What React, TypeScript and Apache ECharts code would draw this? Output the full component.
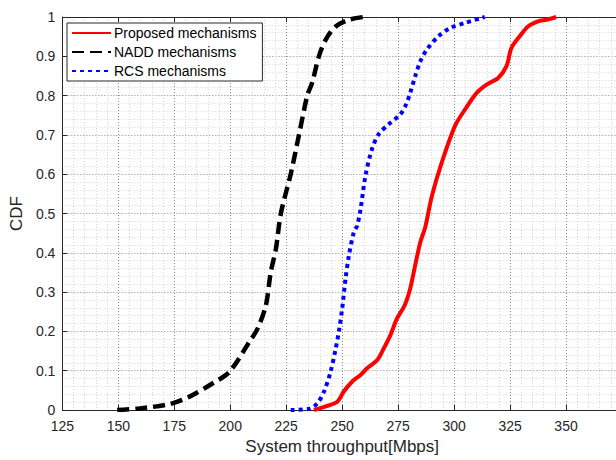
import React, { useEffect, useRef } from "react";
import * as echarts from "echarts";

const xTicks = [125, 150, 175, 200, 225, 250, 275, 300, 325, 350, 375];
const yTicks = [0, 0.1, 0.2, 0.3, 0.4, 0.5, 0.6, 0.7, 0.8, 0.9, 1];
const seriesNames = ["Proposed mechanisms", "NADD mechanisms", "RCS mechanisms"];

const proposedX = [237.4, 242.6, 247.8, 250.7, 254.4, 258.2, 261.1, 265.6, 268.5, 271.5, 274.5, 277.9, 280.4, 282.6, 284.9, 287.1, 290.1, 294.5, 300.4, 304.9, 310.1, 314.5, 319.7, 323.4, 325.6, 329.3, 333.0, 337.5, 341.2, 345.6];
const proposedY = [0, 0.009, 0.021, 0.047, 0.072, 0.089, 0.106, 0.127, 0.156, 0.19, 0.233, 0.266, 0.309, 0.368, 0.427, 0.465, 0.545, 0.63, 0.723, 0.765, 0.807, 0.828, 0.845, 0.875, 0.921, 0.951, 0.976, 0.989, 0.993, 1.0];

const naddX = [149.5, 159.6, 172.9, 181.8, 192.2, 199.6, 208.5, 212.2, 215.9, 218.1, 220.4, 222.6, 227.0, 230.7, 234.4, 236.6, 239.6, 242.6, 247.1, 253.0, 259.6];
const naddY = [0, 0.004, 0.015, 0.034, 0.068, 0.097, 0.173, 0.207, 0.266, 0.351, 0.41, 0.5, 0.6, 0.7, 0.8, 0.833, 0.9, 0.942, 0.976, 0.993, 1.0];

const rcsX = [227.0, 235.2, 238.9, 241.9, 244.8, 247.1, 248.5, 250.0, 251.5, 253.0, 255.2, 256.7, 258.2, 260.4, 263.3, 266.3, 270.8, 275.9, 278.2, 280.4, 282.6, 284.9, 287.8, 293.0, 298.2, 304.9, 313.7];
const rcsY = [0, 0.003, 0.017, 0.047, 0.097, 0.156, 0.199, 0.258, 0.334, 0.393, 0.452, 0.469, 0.511, 0.596, 0.664, 0.702, 0.727, 0.752, 0.773, 0.807, 0.849, 0.887, 0.917, 0.951, 0.972, 0.985, 1.0];

const zip = (xs: number[], ys: number[]) => xs.map((x, i) => [x, ys[i]]);

const FONT = "'Liberation Sans', Arial, Helvetica, sans-serif";
const AXIS_COLOR = "#262626";

export default function App() {
  const ref = useRef<HTMLDivElement>(null);
  useEffect(() => {
    if (!ref.current) return;
    const chart = echarts.init(ref.current, null, { renderer: "svg" });
    const gridLine = { show: true, lineStyle: { color: "#8a8a8a", type: [1, 2] as any, width: 1 } };
    const minorLine = { show: true, lineStyle: { color: "#d6d6d6", type: [1, 2] as any, width: 1 } };
    chart.setOption({
      animation: false,
      backgroundColor: "#ffffff",
      textStyle: { fontFamily: FONT },
      grid: { left: 62, right: 1, top: 17, bottom: 48, containLabel: false },
      legend: {
        orient: "vertical",
        left: 67,
        top: 23,
        data: seriesNames,
        itemWidth: 39,
        itemHeight: 14,
        itemGap: 5,
        padding: [3, 6, 3, 4],
        borderColor: AXIS_COLOR,
        borderWidth: 1,
        borderRadius: 0,
        backgroundColor: "#ffffff",
        itemStyle: { opacity: 0 },
        textStyle: { fontFamily: FONT, fontSize: 14, color: "#000", padding: [0, 0, 0, -2] },
      },
      xAxis: [
        {
          type: "value",
          min: xTicks[0],
          max: xTicks[xTicks.length - 1],
          interval: 25,
          name: "System throughput[Mbps]",
          nameLocation: "middle",
          nameGap: 28,
          nameTextStyle: { fontFamily: FONT, fontSize: 17, color: AXIS_COLOR },
          axisLine: { show: true, onZero: false, lineStyle: { color: AXIS_COLOR, width: 1 } },
          axisTick: { show: true, inside: true, length: 5, lineStyle: { color: AXIS_COLOR } },
          axisLabel: {
            fontFamily: FONT,
            fontSize: 14,
            color: AXIS_COLOR,
            margin: 9,
            formatter: (v: number) => (v === 375 ? "" : String(v)),
          },
          splitLine: gridLine,
          minorTick: { show: false, splitNumber: 5 },
          minorSplitLine: minorLine,
        },
        {
          type: "value",
          position: "top",
          min: xTicks[0],
          max: xTicks[xTicks.length - 1],
          interval: 25,
          axisLine: { show: true, onZero: false, lineStyle: { color: AXIS_COLOR, width: 1 } },
          axisTick: { show: true, inside: true, length: 5, lineStyle: { color: AXIS_COLOR } },
          axisLabel: { show: false },
          splitLine: { show: false },
        },
      ],
      yAxis: {
        type: "value",
        min: yTicks[0],
        max: yTicks[yTicks.length - 1],
        interval: 0.1,
        name: "CDF",
        nameLocation: "middle",
        nameGap: 31,
        nameTextStyle: { fontFamily: FONT, fontSize: 17, color: AXIS_COLOR },
        axisLine: { show: true, onZero: false, lineStyle: { color: AXIS_COLOR, width: 1 } },
        axisTick: { show: true, inside: true, length: 5, lineStyle: { color: AXIS_COLOR } },
        axisLabel: {
          fontFamily: FONT,
          fontSize: 14,
          color: AXIS_COLOR,
          margin: 7,
          formatter: (v: number) => String(Math.round(v * 10) / 10),
        },
        splitLine: gridLine,
        minorTick: { show: false, splitNumber: 5 },
        minorSplitLine: minorLine,
      },
      series: [
        {
          name: seriesNames[0],
          type: "line",
          data: zip(proposedX, proposedY),
          symbol: "none",
          smooth: 0.3,
          z: 5,
          lineStyle: { color: "#ff0000", width: 4, type: "solid" },
          itemStyle: { color: "#ff0000" },
        },
        {
          name: seriesNames[1],
          type: "line",
          data: zip(naddX, naddY),
          symbol: "none",
          smooth: 0.3,
          z: 4,
          lineStyle: { color: "#000000", width: 4.5, type: [12, 6] },
          itemStyle: { color: "#000000" },
        },
        {
          name: seriesNames[2],
          type: "line",
          data: zip(rcsX, rcsY),
          symbol: "none",
          smooth: 0.3,
          z: 3,
          lineStyle: { color: "#0000ff", width: 4, type: [4, 4] },
          itemStyle: { color: "#0000ff" },
        },
      ],
    });
    return () => chart.dispose();
  }, []);
  return (
    <div style={{ position: "fixed", left: 0, top: 0, width: 616, height: 460, overflow: "hidden" }}>
      <div ref={ref} style={{ width: 625, height: 460 }} />
    </div>
  );
}
